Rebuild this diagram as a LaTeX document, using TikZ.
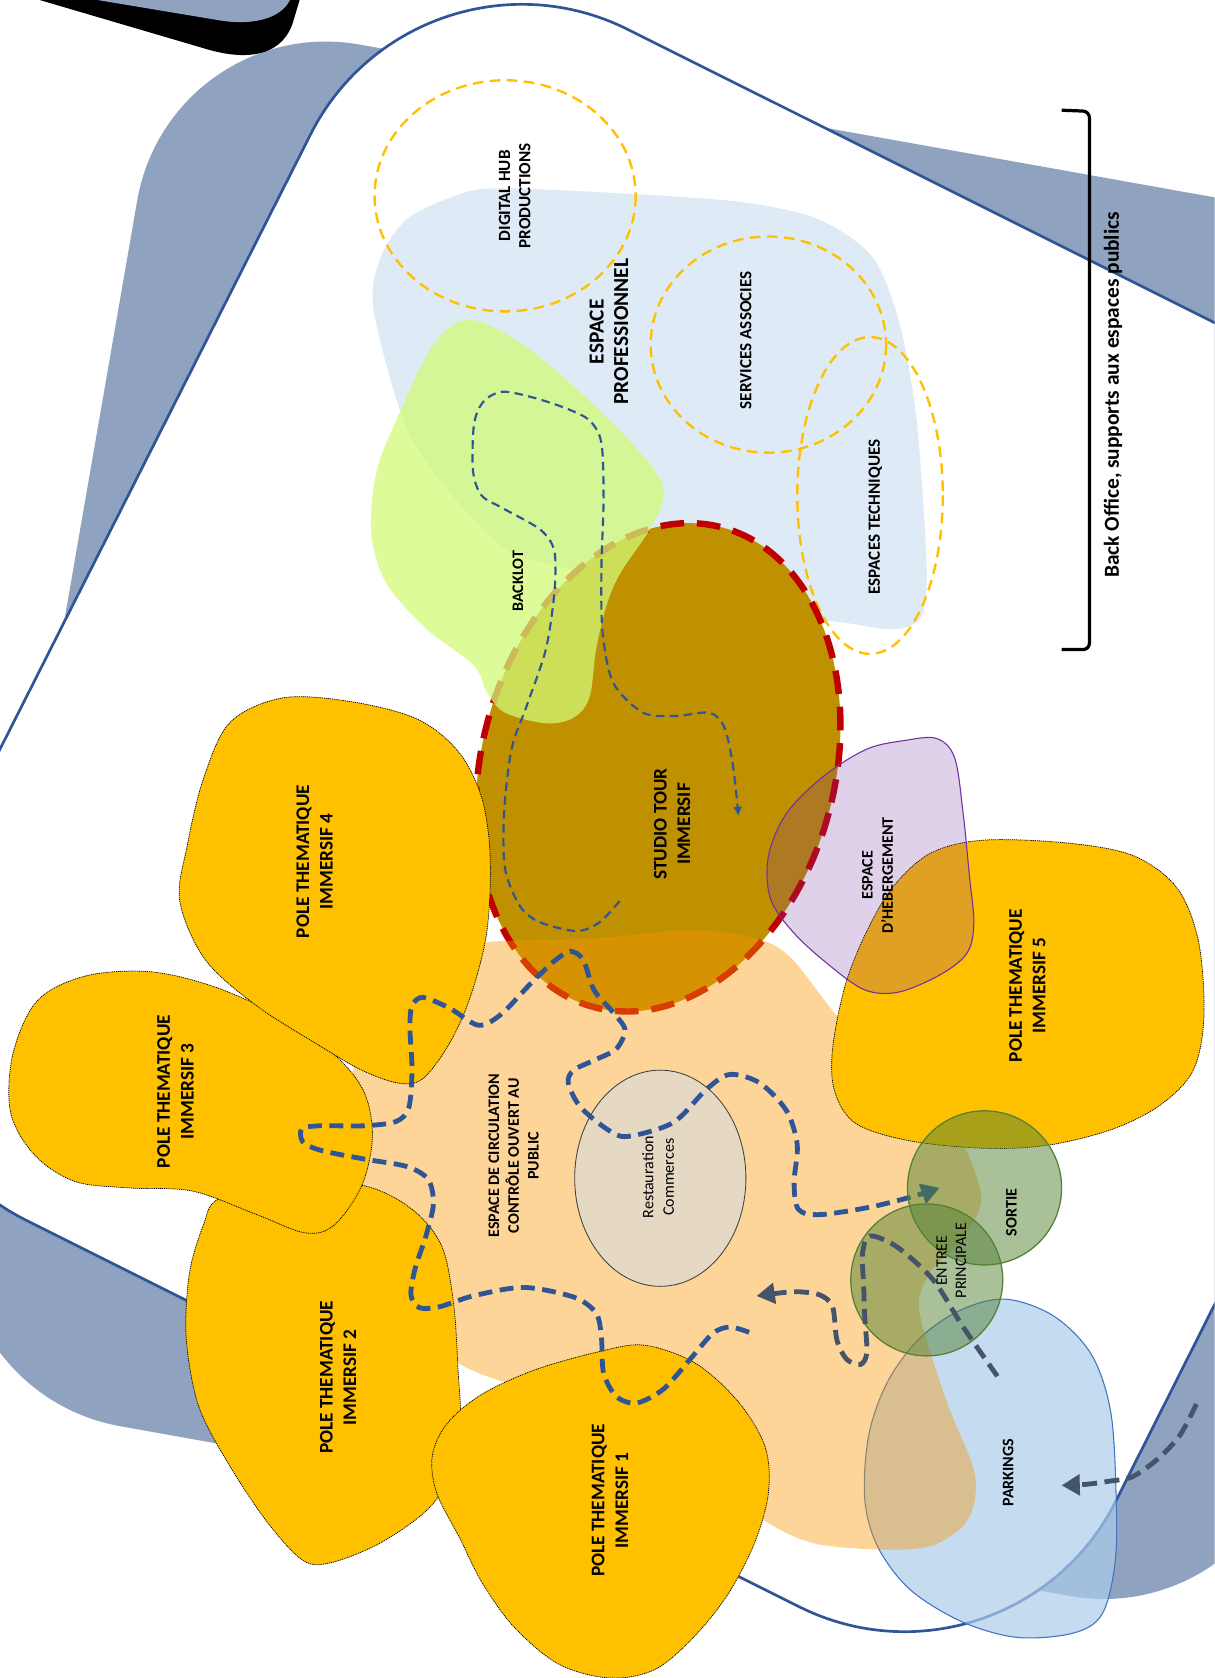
\documentclass[tikz,border=0pt]{standalone}
\usepackage{fontspec}
\setmainfont{Carlito}
\usetikzlibrary{arrows.meta}
\definecolor{greyblue}{RGB}{143,162,191}
\definecolor{frameblue}{RGB}{47,85,151}
\definecolor{problue}{RGB}{222,235,247}
\definecolor{ydashc}{RGB}{255,192,0}
\definecolor{backlotc}{RGB}{210,250,120}
\definecolor{studioc}{RGB}{191,144,0}
\definecolor{studiored}{RGB}{192,0,0}
\definecolor{peachc}{RGB}{250,150,0}
\definecolor{restc}{RGB}{230,217,196}
\definecolor{restline}{RGB}{64,64,64}
\definecolor{polec}{RGB}{255,192,0}
\definecolor{hebc}{RGB}{112,48,160}
\definecolor{greenc}{RGB}{84,130,53}
\definecolor{parkc}{RGB}{171,204,234}
\definecolor{parkline}{RGB}{68,114,196}
\definecolor{slatec}{RGB}{68,84,106}
\tikzset{
  pole/.style={fill=polec, draw=black, line width=0.7pt, dash pattern=on 1pt off 0.8pt},
  ydash/.style={draw=ydashc, line width=2.2pt, dash pattern=on 10pt off 6pt},
  lbl/.style={rotate=90, align=center, text=black, inner sep=0pt},
  thickblue/.style={draw=frameblue, line width=4.5pt, dash pattern=on 13pt off 7pt},
  thickslate/.style={draw=slatec, line width=4.5pt, dash pattern=on 14pt off 7pt},
  thinblue/.style={draw=frameblue, line width=2pt, dash pattern=on 8pt off 5pt},
  bigtip/.style={-{Triangle[length=17pt,width=19pt]}},
  greencircle/.style={fill=greenc, fill opacity=0.5, draw=greenc, line width=1.2pt, draw opacity=1}
}
\begin{document}
\begin{tikzpicture}[x=1pt,y=-1pt]
\useasboundingbox (0,0) rectangle (1135,1568);
\clip (0,0) rectangle (1135,1568);
\fill[white] (0,0) rectangle (1135,1568);

% background grey shape
\fill[greyblue, rounded corners=180pt] (47,655.5) -- (159,10) -- (1401,232) -- (1177,1523) -- (-65,1301) -- cycle;
% top-left black piece
\fill[black] (37,0) -- (190,45) .. controls (235,59) and (265,50) .. (274,20) -- (280,0) -- cycle;
\fill[greyblue] (91,0) -- (205,19) .. controls (235,24) and (262,18) .. (271,0) -- cycle;
% white frame
\draw[fill=white, draw=frameblue, line width=2.5pt, rounded corners=220pt] (108.45,485.35) -- (389.5,-71) -- (1503.5,485.7) -- (943.6,1599.8) -- (-172.6,1041.7) -- cycle;

% espace professionnel blob
\fill[problue] plot[smooth cycle, tension=0.5] coordinates {(349,289) (356,240) (380,205) (420,185) (461,176) (587,181) (694,189) (765,205) (815,240) (840,300) (855,380) (862,460) (866,540) (860,578) (835,588) (790,582) (700,570) (600,548) (551,535) (479,517) (426,467) (380,400)};

% dashed yellow circles
\draw[ydash] (472,183) ellipse [x radius=122, y radius=108];
\draw[ydash] (718,322) ellipse [x radius=110, y radius=101];
\draw[ydash] (813,463) ellipse [x radius=68, y radius=148];

% parkings
\draw[fill=parkc, fill opacity=0.7, draw=parkline, line width=1pt] plot[smooth cycle, tension=0.55] coordinates {(940,1214) (985,1230) (1020,1266) (1038,1320) (1043,1400) (1042,1460) (1030,1508) (1003,1526) (950,1530) (898,1515) (850,1485) (820,1445) (808,1400) (812,1340) (830,1290) (860,1250) (898,1224)};

% studio tour
\fill[studioc, rotate around={-15:(615,717)}] (615,717) ellipse [x radius=165, y radius=232];
\draw[studiored, line width=6pt, dash pattern=on 22pt off 12pt, rotate around={-15:(615,717)}] (615,717) ellipse [x radius=165, y radius=232];

% backlot
\fill[backlotc, opacity=0.75] plot[smooth cycle, tension=0.55] coordinates {(440,299) (497,328) (569,392) (612,440) (620,465) (607,495) (580,535) (567,565) (557,607) (551,651) (537,670) (511,676) (472,666) (455,647) (443,622) (399,588) (361,545) (347,498) (352,440) (372,389) (405,322)};

% thin dashed path
\draw[thinblue, -{Triangle[length=8pt,width=7pt]}] plot[smooth, tension=0.5] coordinates {(579,842) (560,862) (539,870) (505,862) (486,847) (472,812) (471,760) (478,700) (492,660) (510,607) (518,554) (518,515) (505,495) (470,475) (450,463) (442,440) (443,396) (452,375) (470,366) (500,372) (530,382) (551,393) (562,414) (564,467) (562,530) (563,590) (573,638) (601,666) (632,669) (663,666) (677,680) (685,716) (690,762)};

% peach circulation space
\fill[peachc, opacity=0.4] plot[smooth cycle, tension=0.5] coordinates {(451,881) (554,877) (647,869) (710,878) (741,897) (788,956) (850,1010) (895,1060) (917,1120) (897,1160) (869,1189) (859,1225) (884,1308) (909,1370) (911,1401) (900,1426) (869,1445) (822,1448) (760,1442) (713,1420) (650,1370) (580,1312) (528,1303) (473,1292) (423,1270) (395,1225) (360,1150) (320,1080) (330,1000) (380,940) (420,900)};

% restauration
\draw[fill=restc, draw=restline, line width=0.8pt] (617,1101) ellipse [x radius=80, y radius=101];

% poles
\path[pole] plot[smooth cycle, tension=0.55] coordinates {(205,1120) (270,1105) (340,1108) (385,1130) (413,1165) (424,1220) (428,1280) (430,1330) (420,1380) (398,1412) (355,1442) (310,1460) (283,1458) (248,1420) (210,1362) (185,1312) (174,1250) (177,1190) (190,1145)};
\path[pole] plot[smooth cycle, tension=0.55] coordinates {(35,935) (80,912) (140,908) (200,922) (262,950) (312,985) (340,1020) (348,1062) (338,1108) (312,1145) (285,1152) (240,1135) (180,1113) (120,1110) (70,1104) (33,1080) (10,1040) (12,985)};
\path[pole] plot[smooth cycle, tension=0.55] coordinates {(265,652) (330,656) (390,672) (428,702) (450,745) (458,800) (455,870) (440,930) (420,975) (395,1008) (372,1012) (338,1000) (300,978) (240,940) (192,897) (168,842) (175,790) (190,728) (215,675)};
\path[pole] plot[smooth cycle, tension=0.55] coordinates {(500,1280) (560,1263) (602,1257) (650,1274) (690,1310) (715,1352) (718,1395) (705,1442) (680,1490) (648,1530) (612,1560) (570,1568) (522,1555) (480,1520) (450,1478) (430,1438) (408,1395) (404,1360) (418,1330) (450,1303)};
\path[pole] plot[smooth cycle, tension=0.55] coordinates {(835,828) (870,797) (920,785) (1000,788) (1060,800) (1100,830) (1120,880) (1125,950) (1115,1000) (1085,1032) (1040,1055) (980,1070) (920,1073) (850,1066) (800,1050) (780,1020) (778,980) (790,920) (810,870)};

% hebergement
\draw[fill=hebc, fill opacity=0.22, draw=hebc, line width=1pt] plot[smooth cycle, tension=0.55] coordinates {(845,692) (875,690) (892,708) (900,760) (906,820) (910,862) (904,890) (880,910) (840,927) (808,925) (775,902) (742,872) (720,840) (718,800) (735,760) (770,725) (810,700)};

% thick blue visitor path
\draw[thickblue, bigtip] plot[smooth, tension=0.5] coordinates {(700,1245) (682,1240) (666,1246) (645,1270) (620,1298) (595,1311) (576,1305) (564,1283) (562,1250) (557,1227) (536,1212) (489,1203) (442,1211) (411,1221) (392,1222) (384,1210) (388,1185) (398,1155) (405,1125) (400,1102) (380,1090) (340,1083) (300,1075) (283,1067) (282,1055) (298,1052) (340,1052) (370,1048) (382,1035) (385,1000) (383,960) (385,940) (395,932) (420,942) (447,958) (468,948) (495,920) (518,898) (533,889) (545,897) (555,925) (572,945) (584,962) (576,980) (557,990) (536,1000) (531,1012) (542,1034) (567,1055) (586,1062) (629,1049) (660,1018) (682,1004) (710,1012) (735,1038) (745,1070) (742,1105) (746,1130) (766,1135) (813,1128) (853,1118) (878,1110)};

% green circles
\path[greencircle] (920,1110) circle [radius=72];
\path[greencircle] (866,1196) circle [radius=71];

% slate paths
\draw[thickslate, bigtip] plot[smooth, tension=0.5] coordinates {(932,1286) (900,1240) (872,1196) (838,1165) (813,1155) (806,1171) (807,1200) (808,1230) (810,1264) (804,1275) (791,1270) (782,1252) (778,1221) (766,1210) (744,1207) (722,1209) (707,1211)};
\draw[thickslate, bigtip] plot[smooth, tension=0.5] coordinates {(1118,1312) (1102,1342) (1081,1364) (1058,1380) (1037,1384) (1015,1387) (992,1388)};

% bracket
\draw[black, line width=3pt, rounded corners=6pt] (992,103) -- (1018,104) -- (1018,607) -- (992,607);

% labels
\node[lbl, font=\fontsize{16}{19}\selectfont\bfseries] (hub) at (481,183) {DIGITAL HUB\\PRODUCTIONS};
\node[lbl, font=\fontsize{20}{23}\selectfont\bfseries] (pro) at (569,310) {ESPACE\\PROFESSIONNEL};
\node[lbl, font=\fontsize{16}{19}\selectfont\bfseries] (serv) at (697,318) {SERVICES ASSOCIES};
\node[lbl, font=\fontsize{16}{19}\selectfont\bfseries] (tech) at (818,483) {ESPACES TECHNIQUES};
\node[lbl, font=\fontsize{15}{18}\selectfont\bfseries] (backlot) at (484,543) {BACKLOT};
\node[lbl, font=\fontsize{18}{22}\selectfont\bfseries] (studio) at (628,770) {STUDIO TOUR\\IMMERSIF};
\node[lbl, font=\fontsize{18}{22}\selectfont\bfseries] (p4) at (294,805) {POLE THEMATIQUE\\IMMERSIF 4};
\node[lbl, font=\fontsize{18}{22}\selectfont\bfseries] (p3) at (164,1020) {POLE THEMATIQUE\\IMMERSIF 3};
\node[lbl, font=\fontsize{18}{22}\selectfont\bfseries] (p2) at (316,1287) {POLE THEMATIQUE\\IMMERSIF 2};
\node[lbl, font=\fontsize{18}{22}\selectfont\bfseries] (p1) at (570,1402) {POLE THEMATIQUE\\IMMERSIF 1};
\node[lbl, font=\fontsize{18}{22}\selectfont\bfseries] (p5) at (960,921) {POLE THEMATIQUE\\IMMERSIF 5};
\node[lbl, font=\fontsize{15}{19}\selectfont\bfseries] (heb) at (820,818) {ESPACE\\D’HEBERGEMENT};
\node[lbl, font=\fontsize{15}{18.5}\selectfont\bfseries] (circ) at (480,1080) {ESPACE DE CIRCULATION\\CONTRÔLE OUVERT AU\\PUBLIC};
\node[lbl, font=\fontsize{15}{19}\selectfont] (rest) at (615,1100) {Restauration\\Commerces};
\node[lbl, font=\fontsize{15}{18}\selectfont\bfseries] (sortie) at (945,1133) {SORTIE};
\node[lbl, font=\fontsize{15}{18}\selectfont] (entree) at (889,1178) {ENTREE\\PRINCIPALE};
\node[lbl, font=\fontsize{15}{18}\selectfont\bfseries] (park) at (942,1376) {PARKINGS};
\node[lbl, font=\fontsize{20}{24}\selectfont\bfseries] (back) at (1040,369) {Back Office, supports aux espaces publics};
\end{tikzpicture}
\end{document}
